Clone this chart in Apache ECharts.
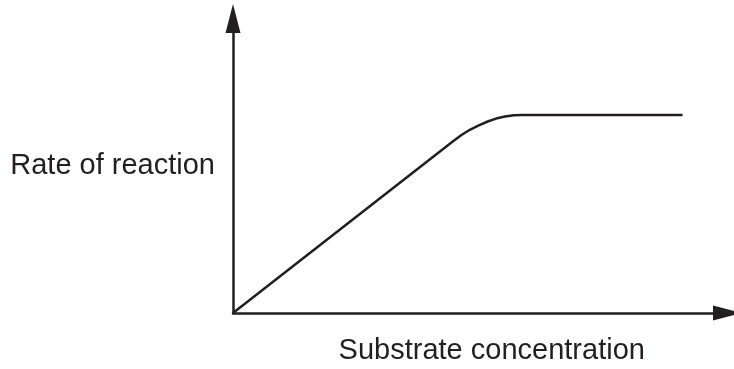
<!DOCTYPE html>
<html>
<head>
<meta charset="utf-8">
<script src="https://cdn.jsdelivr.net/npm/echarts@6/dist/echarts.min.js"></script>
<style>
html,body{margin:0;padding:0;background:#fff;}
#chart{width:734px;height:369px;}
</style>
</head>
<body>
<div id="chart"></div>
<script>
// Arbitrary units (schematic graph)
var concentration = [0, 44.5, 46.2, 47.9, 49.7, 51.5, 53.2, 55.0, 56.8, 58.6, 90.9];
var rate = [0, 58.3, 60.4, 62.2, 63.7, 65.0, 66.0, 66.7, 67.1, 67.2, 67.2];
var xName = 'Substrate concentration';
var yName = 'Rate of reaction';

var ink = '#231f20';
var font = '"Liberation Sans", Arial, sans-serif';
var points = concentration.map(function (c, i) { return [c, rate[i]]; });

var chart = echarts.init(document.getElementById('chart'), null, {renderer: 'canvas'});
chart.setOption({
  animation: false,
  backgroundColor: '#fff',
  grid: {left: 233, right: 6.5, top: 18.4, bottom: 56, containLabel: false, outerBoundsMode: 'none'},
  xAxis: {
    type: 'value', min: 0, max: 100,
    name: xName, nameLocation: 'middle', nameGap: 23,
    nameTextStyle: {color: ink, fontSize: 29, fontFamily: font, padding: [0, 0, 0, 23]},
    axisLine: {show: true, symbol: ['none', 'triangle'], symbolSize: [15, 29],
      lineStyle: {color: ink, width: 2.5}},
    axisTick: {show: false}, axisLabel: {show: false}, splitLine: {show: false}
  },
  yAxis: {
    type: 'value', min: 0, max: 100,
    name: yName, nameLocation: 'middle', nameRotate: 0, nameGap: 18,
    nameTextStyle: {color: ink, fontSize: 29, fontFamily: font, padding: [5, 0, 0, 0]},
    axisLine: {show: true, symbol: ['none', 'triangle'], symbolSize: [15, 29],
      lineStyle: {color: ink, width: 2.5}},
    axisTick: {show: false}, axisLabel: {show: false}, splitLine: {show: false}
  },
  series: [{
    type: 'line',
    data: points,
    showSymbol: false,
    smooth: false,
    lineStyle: {color: ink, width: 2.5},
    z: 1
  }]
});
</script>
</body>
</html>
